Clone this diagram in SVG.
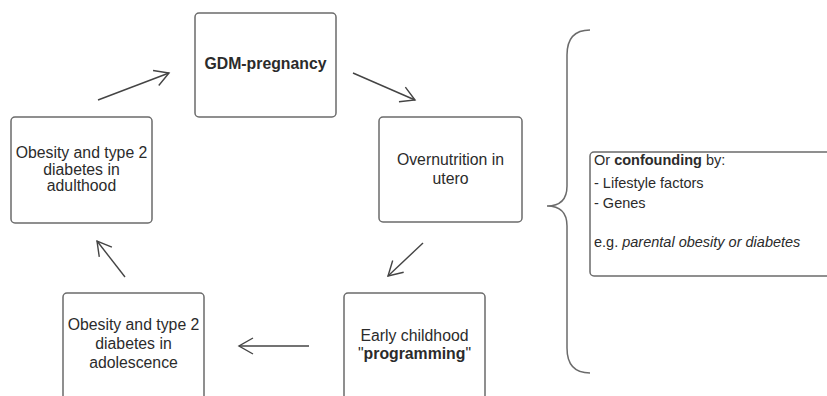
<svg xmlns="http://www.w3.org/2000/svg" width="827" height="396" viewBox="0 0 827 396">
<style>
.box{fill:#fff;stroke:#6b6b6b;stroke-width:1.5}
.t{font-family:"Liberation Sans",Arial,sans-serif;font-size:15.8px;fill:#2b2b2b;text-anchor:middle}
.tl{font-family:"Liberation Sans",Arial,sans-serif;font-size:14.5px;fill:#2b2b2b}
.b{font-weight:bold}
.i{font-style:italic}
.conn{fill:none;stroke:#444;stroke-width:1.4}
</style>
<defs>
<marker id="ah" markerUnits="userSpaceOnUse" markerWidth="20" markerHeight="20" refX="15" refY="9" orient="auto">
<path d="M1,1 L15,9 L1,17" fill="none" stroke="#444" stroke-width="1.4"/>
</marker>
</defs>
<rect width="827" height="396" fill="#fff"/>
<g id="gdm">
<rect class="box" x="195" y="13" width="141" height="104" rx="4"/>
<text class="t b" x="265.5" y="69">GDM-pregnancy</text>
</g>
<g id="overnutrition">
<rect class="box" x="379" y="117" width="143" height="105" rx="4"/>
<text class="t" x="450.5" y="165">Overnutrition in</text>
<text class="t" x="450.5" y="184">utero</text>
</g>
<g id="programming">
<rect class="box" x="344" y="293" width="141" height="120" rx="4"/>
<text class="t" x="414.5" y="341">Early childhood</text>
<text class="t" x="414.5" y="359">"<tspan class="b">programming</tspan>"</text>
</g>
<g id="adolescence">
<rect class="box" x="63" y="293" width="141" height="120" rx="4"/>
<text class="t" x="133.5" y="330">Obesity and type 2</text>
<text class="t" x="133.5" y="349">diabetes in</text>
<text class="t" x="133.5" y="368">adolescence</text>
</g>
<g id="adulthood">
<rect class="box" x="11" y="117" width="141" height="106" rx="4"/>
<text class="t" x="81.5" y="158">Obesity and type 2</text>
<text class="t" x="81.5" y="174.5">diabetes in</text>
<text class="t" x="81.5" y="191">adulthood</text>
</g>
<g id="confounding">
<path d="M590,30 C575,30 567,38 567,55 L567,186 C567,200 560,206 547,206 C560,206 567,212 567,226 L567,348 C567,365 575,373 590,373" fill="none" stroke="#6b6b6b" stroke-width="1.5"/>
<rect class="box" x="590" y="152" width="260" height="124" rx="4"/>
<text class="tl" x="594" y="165">Or <tspan class="b">confounding</tspan> by:</text>
<text class="tl" x="594" y="188">- Lifestyle factors</text>
<text class="tl" x="594" y="208">- Genes</text>
<text class="tl" x="594" y="247">e.g. <tspan class="i">parental obesity or diabetes</tspan></text>
</g>
<g id="connectors">
<line class="conn" x1="98" y1="100" x2="169" y2="73" marker-end="url(#ah)"/>
<line class="conn" x1="353" y1="73" x2="415" y2="100" marker-end="url(#ah)"/>
<line class="conn" x1="423" y1="243" x2="388" y2="276" marker-end="url(#ah)"/>
<line class="conn" x1="309" y1="346" x2="239" y2="346" marker-end="url(#ah)"/>
<line class="conn" x1="125" y1="277" x2="97" y2="241" marker-end="url(#ah)"/>
</g>
</svg>
